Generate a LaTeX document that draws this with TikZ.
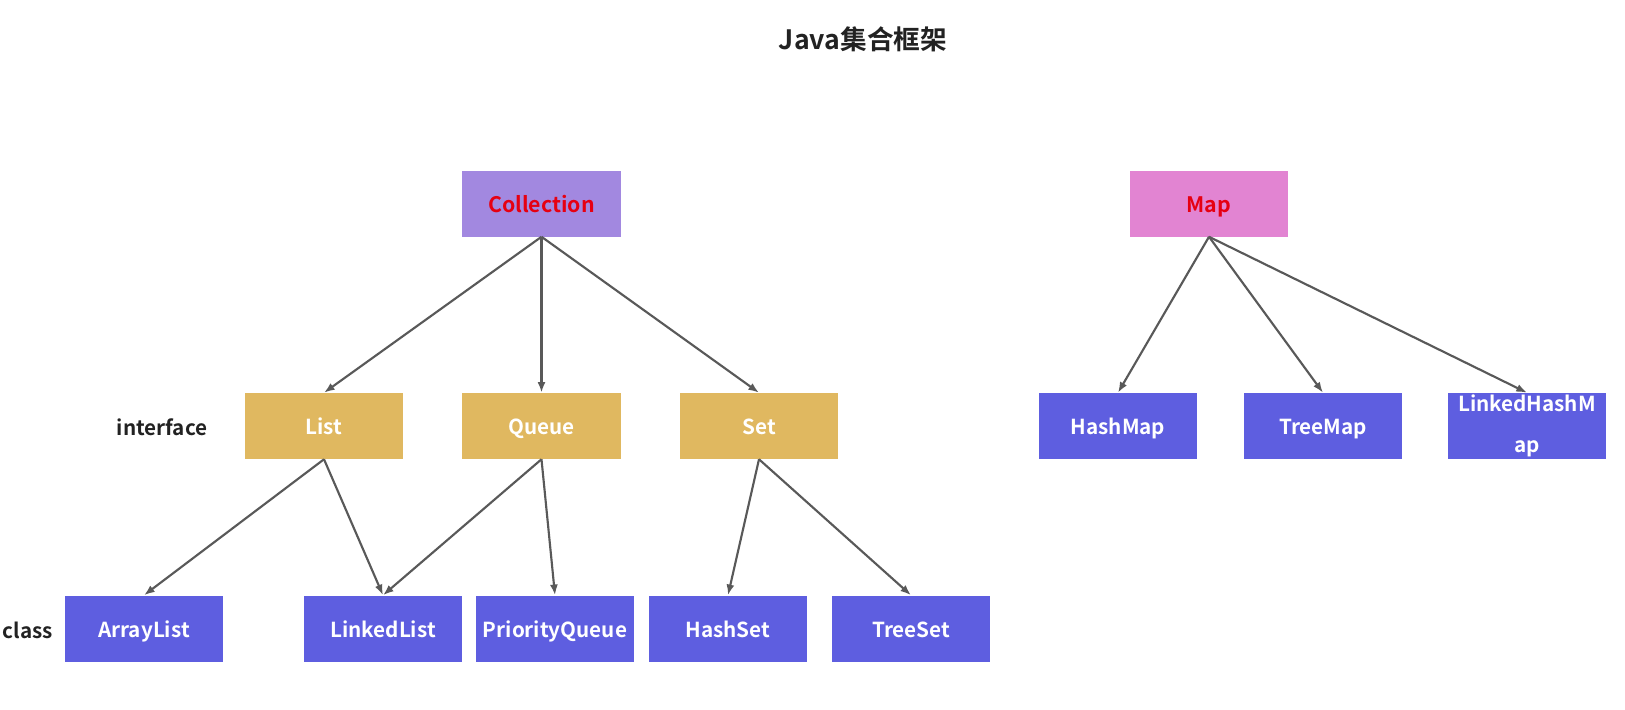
\documentclass[tikz,border=0pt]{standalone}
\usepackage{fontspec}
\setmainfont{Noto Sans CJK SC}[BoldFont={Noto Sans CJK SC Bold}]
\usepackage{tikz}
\usetikzlibrary{arrows.meta,positioning}
\definecolor{collpurple}{RGB}{162,136,224}
\definecolor{mappink}{RGB}{226,132,210}
\definecolor{ifyellow}{RGB}{224,184,96}
\definecolor{clsblue}{RGB}{94,94,224}
\definecolor{rootred}{RGB}{230,0,18}
\definecolor{linegray}{RGB}{89,89,89}
\definecolor{labelgray}{RGB}{34,34,34}

\begin{document}
\begin{tikzpicture}[
  x=0.75pt,y=-0.75pt,
  >={Latex[length=8pt,width=6pt]},
  box/.style={align=center,minimum width=119pt,minimum height=49.5pt,inner sep=0pt,font=\bfseries\fontsize{15.5}{18}\selectfont},
  mid/.style={text height=13pt,text depth=0pt},
  root/.style={box,mid,text=rootred,font=\bfseries\fontsize{16}{18}\selectfont},
  iface/.style={box,mid,fill=ifyellow,text=white},
  cls/.style={box,mid,fill=clsblue,text=white},
  clstwo/.style={box,fill=clsblue,text=white,text width=115pt,text height=13pt,text depth=34.8pt,font=\bfseries\fontsize{15.5}{18.6}\selectfont},
  side/.style={text=labelgray,font=\bfseries\fontsize{15.5}{18}\selectfont},
  edge/.style={->,draw=linegray,line width=1.6pt}
]
\useasboundingbox (0,0) rectangle (1625,710);
\node[font=\bfseries\fontsize{20}{24}\selectfont,text=labelgray] (title) at (863,39) {Java集合框架};
% top level
\node[root,fill=collpurple] (collection) at (541.5,203.5) {Collection};
\node[root,fill=mappink] (map) at (1209,203.5) {Map};
% interfaces
\node[side] (ifacelabel) at (162,427) {interface};
\node[iface] (list) at (324,426) {List};
\node[iface] (queue) at (541.5,426) {Queue};
\node[iface] (set) at (759,426) {Set};
\node[cls] (hashmap) at (1118,426) {HashMap};
\node[cls] (treemap) at (1323,426) {TreeMap};
\node[clstwo] (linkedhashmap) at (1527,426) {LinkedHashM\\[12pt]ap};
% classes
\node[side] (clslabel) at (28,630) {class};
\node[cls] (arraylist) at (144,628.5) {ArrayList};
\node[cls] (linkedlist) at (383,628.5) {LinkedList};
\node[cls] (priorityqueue) at (555,628.5) {PriorityQueue};
\node[cls] (hashset) at (728,628.5) {HashSet};
\node[cls] (treeset) at (911,628.5) {TreeSet};
% arrows
\draw[edge] (collection.south) -- (list.north);
\draw[edge] (collection.south) -- (queue.north);
\draw[edge] (collection.south) -- (set.north);
\draw[edge] (map.south) -- (hashmap.north);
\draw[edge] (map.south) -- (treemap.north);
\draw[edge] (map.south) -- (linkedhashmap.north);
\draw[edge] (list.south) -- (arraylist.north);
\draw[edge] (list.south) -- (linkedlist.north);
\draw[edge] (queue.south) -- (linkedlist.north);
\draw[edge] (queue.south) -- (priorityqueue.north);
\draw[edge] (set.south) -- (hashset.north);
\draw[edge] (set.south) -- (treeset.north);
\end{tikzpicture}
\end{document}
